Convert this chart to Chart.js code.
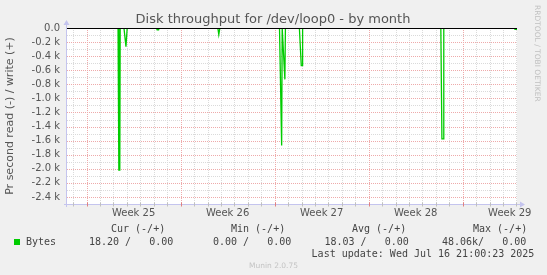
<!DOCTYPE html>
<html><head><meta charset="utf-8">
<script src="https://cdn.jsdelivr.net/npm/chart.js@4.4.1/dist/chart.umd.min.js"></script>
<style>
html,body{margin:0;padding:0;background:#f0f0f0;}
#wrap{position:relative;width:547px;height:275px;overflow:hidden;background:#f0f0f0;}
canvas{position:absolute;left:0;top:0;}
.t{position:absolute;white-space:pre;font-family:"DejaVu Sans Mono",monospace;font-size:10px;color:#444;line-height:12px;}
.sq{position:absolute;width:6px;height:6px;background:#00cc00;}
.v{position:absolute;font-family:"DejaVu Sans",sans-serif;color:#c4c4c4;white-space:pre;}
.ttl{position:absolute;font-family:"DejaVu Sans",sans-serif;font-size:13px;line-height:16px;color:#555;white-space:pre;text-align:center;}
</style></head><body>
<div id="wrap">
<canvas id="c" width="547" height="275"></canvas>
<div id="legend"></div>
</div>
<script>
// ---- data ----
// x = days since Monday 00:00 of week 25; values in bytes/s (read shown negative)
const readDays  = [-1.46, 2.34, 2.40, 2.47, 2.50, 2.78, 2.93, 3.02, 5.20, 5.25, 5.36, 5.40, 9.77, 9.84, 9.92,
                   14.36, 14.52, 14.56, 14.60, 14.76, 14.80, 15.84, 15.98, 16.05, 16.08,
                   26.37, 26.45, 26.55, 26.59, 31.80, 31.90, 32.04];
const readBytes = [0, 0, -2020, -2020, 0, 0, -265, 0, 0, -25, -25, 0, 0, -95, 0,
                   0, -1670, 0, 0, -730, 0, 0, -535, -535, 0,
                   0, -1575, -1575, 0, 0, -20, -20];
const weekNumbers = [25, 26, 27, 28, 29];
const weekCenters = [3.5, 10.5, 17.5, 24.5, 31.5];
const yTickValues = [0,-100,-200,-300,-400,-500,-600,-700,-800,-900,-1000,-1100,-1200,-1300,-1400,-1500,
                     -1600,-1700,-1800,-1900,-2000,-2100,-2200,-2300,-2400,-2500];
const legendHeaders = ["Cur (-/+)", "Min (-/+)", "Avg (-/+)", "Max (-/+)"];
const legendValues  = ["18.20 /   0.00", " 0.00 /   0.00", "18.03 /   0.00", "48.06k/   0.00"];
const seriesName = "Bytes";
const lastUpdate = "Last update: Wed Jul 16 21:00:23 2025";
const titleText = "Disk throughput for /dev/loop0 - by month";
const yTitle = "Pr second read (-) / write (+)";

const X_MIN = -1.46, X_MAX = 32.04, Y_MIN = -2500, Y_MAX = 0;

// ---- text (HTML) ----
const lg = document.getElementById('legend');
function addText(cls, txt, left, top, extra) {
  const d = document.createElement('div'); d.className = cls; d.textContent = txt;
  d.style.left = left + 'px'; d.style.top = top + 'px';
  if (extra) Object.assign(d.style, extra);
  lg.appendChild(d); return d;
}
addText('ttl', titleText, 0, 10.5, {width: '546px'});
const headLeft = [111, 231, 352, 473];
const valLeft = [89, 207, 324.5, 442];
legendHeaders.forEach((h, i) => addText('t', h, headLeft[i], 223));
legendValues.forEach((v, i) => addText('t', v, valLeft[i], 235.5));
addText('t', seriesName, 26, 235.5);
const sq = document.createElement('div'); sq.className = 'sq'; sq.style.left = '14px'; sq.style.top = '238.5px'; lg.appendChild(sq);
addText('t', lastUpdate, 311.6, 248);
addText('v', 'Munin 2.0.75', 0, 261, {width: '547px', textAlign: 'center', fontSize: '7.5px', lineHeight: '10px'});
addText('v', 'RRDTOOL / TOBI OETIKER', 532, 5, {writingMode: 'vertical-rl', fontSize: '7.5px', lineHeight: '10px', color: '#c0c0c0'});

// ---- chart ----
const RED = '#eeaaaa';
const GREY = '#dadada';
const AXIS = '#c4c4ee';

const decor = {
  id: 'decor',
  beforeDatasetsDraw(chart) {
    const {ctx, chartArea: a, scales} = chart;
    ctx.save(); ctx.fillStyle = '#ffffff';
    ctx.fillRect(a.left, a.top, a.right - a.left, a.bottom - a.top);
    ctx.lineWidth = 1; ctx.setLineDash([1, 1]);
    const drawV = (d, col) => {
      const px = Math.round(scales.x.getPixelForValue(d)) + 0.5;
      ctx.strokeStyle = col; ctx.beginPath(); ctx.moveTo(px, a.top); ctx.lineTo(px, a.bottom); ctx.stroke();
    };
    const drawH = (v, col) => {
      const py = Math.round(scales.y.getPixelForValue(v)) + 0.5;
      ctx.strokeStyle = col; ctx.beginPath(); ctx.moveTo(a.left, py); ctx.lineTo(a.right, py); ctx.stroke();
    };
    for (let d = Math.ceil(X_MIN); d <= X_MAX; d++) if (d % 7 !== 0) drawV(d, GREY);
    yTickValues.forEach(v => { if (v % 200 !== 0) drawH(v, GREY); });
    for (let d = Math.ceil(X_MIN); d <= X_MAX; d++) if (d % 7 === 0) drawV(d, RED);
    yTickValues.forEach(v => { if (v % 200 === 0) drawH(v, RED); });
    ctx.restore();
  },
  afterDatasetsDraw(chart) {
    const {ctx, chartArea: a, scales} = chart;
    const y0 = Math.round(scales.y.getPixelForValue(0)) + 0.5;
    ctx.save();
    ctx.strokeStyle = '#000000'; ctx.lineWidth = 1;
    ctx.beginPath(); ctx.moveTo(a.left, y0); ctx.lineTo(a.right, y0); ctx.stroke();
    const xb = Math.round(a.bottom) + 0.5, xl = Math.round(a.left) - 0.5;
    ctx.strokeStyle = AXIS; ctx.fillStyle = AXIS;
    ctx.beginPath(); ctx.moveTo(xl, a.bottom + 3); ctx.lineTo(xl, a.top - 4); ctx.stroke();
    ctx.beginPath(); ctx.moveTo(xl - 3, a.top - 3); ctx.lineTo(xl + 3, a.top - 3); ctx.lineTo(xl, a.top - 8); ctx.closePath(); ctx.fill();
    ctx.beginPath(); ctx.moveTo(a.left - 3, xb); ctx.lineTo(a.right + 3, xb); ctx.stroke();
    ctx.beginPath(); ctx.moveTo(a.right + 3, xb - 3); ctx.lineTo(a.right + 3, xb + 3); ctx.lineTo(a.right + 8, xb); ctx.closePath(); ctx.fill();
    for (let d = Math.ceil(X_MIN); d <= X_MAX; d++) {
      const px = Math.round(scales.x.getPixelForValue(d)) + 0.5;
      ctx.strokeStyle = (d % 7 === 0) ? '#e08080' : '#c0c0c0';
      ctx.beginPath(); ctx.moveTo(px, xb - 2); ctx.lineTo(px, xb + 2); ctx.stroke();
    }
    ctx.restore();
  }
};

const xTicks = weekCenters.slice();

new Chart(document.getElementById('c'), {
  type: 'scatter',
  data: {
    datasets: [{
      label: seriesName,
      data: readDays.map((d, i) => ({x: d, y: readBytes[i]})),
      showLine: true,
      borderColor: '#00cc00',
      backgroundColor: '#00cc00',
      borderWidth: 1.3,
      pointRadius: 0,
      tension: 0
    }]
  },
  options: {
    responsive: false,
    devicePixelRatio: 1,
    animation: false,
    layout: {padding: {left: 0, right: 30, top: 28, bottom: 51}},
    plugins: {
      legend: {display: false},
      tooltip: {enabled: false},
      title: {display: false}
    },
    scales: {
      x: {
        type: 'linear', min: X_MIN, max: X_MAX,
        afterBuildTicks: s => { s.ticks = xTicks.map(v => ({value: v})); },
        afterFit: s => { s.height = 20; },
        border: {display: false},
        grid: {display: false, drawTicks: false},
        ticks: {
          autoSkip: false, maxRotation: 0, minRotation: 0, padding: 3,
          color: '#555555', font: {family: 'DejaVu Sans', size: 10},
          callback: v => { const i = weekCenters.indexOf(v); return i >= 0 ? 'Week ' + weekNumbers[i] : ''; }
        }
      },
      y: {
        type: 'linear', min: Y_MIN, max: Y_MAX,
        afterBuildTicks: s => { s.ticks = yTickValues.map(v => ({value: v})); },
        afterFit: s => { s.width = 67; },
        border: {display: false},
        grid: {display: false, drawTicks: false},
        title: {
          display: true, text: yTitle, color: '#555555',
          font: {family: 'DejaVu Sans', size: 11, weight: 'normal', lineHeight: 1.2},
          padding: {top: 4, bottom: 0}
        },
        ticks: {
          autoSkip: false, padding: 7,
          color: '#555555', font: {family: 'DejaVu Sans', size: 10},
          callback: v => {
            if (v % 200 !== 0) return '';
            if (v === 0) return '0.0';
            return (v / 1000).toFixed(1) + ' k';
          }
        }
      }
    }
  },
  plugins: [decor]
});
</script>
</body></html>
